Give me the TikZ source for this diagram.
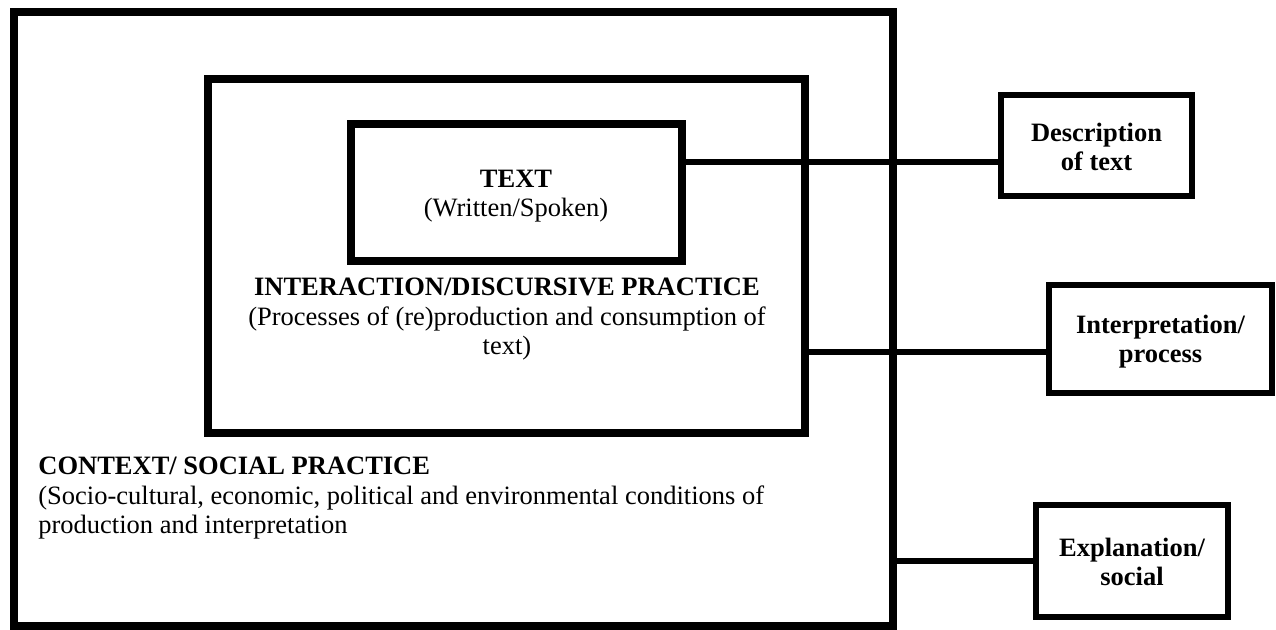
\documentclass[tikz,border=0pt]{standalone}
\usepackage{fontspec}
\setmainfont{Liberation Serif}
\begin{document}
\begin{tikzpicture}[x=0.5pt,y=-0.5pt,
  bigbox/.style={draw=black,line width=4pt,inner sep=0pt,outer sep=0pt},
  smallbox/.style={draw=black,line width=2.85pt,inner sep=0pt,outer sep=0pt},
  conn/.style={draw=black,line width=3pt},
  lbl/.style={inner sep=0pt,font=\fontsize{13.25pt}{14.75pt}\selectfont,align=center,anchor=base},
  blbl/.style={lbl,font=\fontsize{13.25pt}{14.75pt}\selectfont\bfseries}]
\useasboundingbox[fill=white] (0,0) rectangle (1276,630);
% nested boxes
\node[bigbox,minimum width=439.75pt,minimum height=307pt] (outer) at (453.25,319) {};
\node[bigbox,fill=white,minimum width=298.5pt,minimum height=177pt] (middle) at (506.5,256) {};
\node[bigbox,fill=white,minimum width=165.75pt,minimum height=68.25pt] (inner) at (516.25,192.75) {};
% right boxes
\node[smallbox,minimum width=95.5pt,minimum height=50.5pt] (desc) at (1096.5,145.5) {};
\node[smallbox,minimum width=111.5pt,minimum height=54pt] (interp) at (1160.5,339) {};
\node[smallbox,minimum width=96pt,minimum height=56pt] (expl) at (1132,561) {};
% texts (base anchor = baseline of the last line)
\node[lbl] (ttext) at (516,217) {\textbf{TEXT}\\(Written/Spoken)};
\node[lbl] (tinter) at (507,355) {\textbf{INTERACTION/DISCURSIVE PRACTICE}\\(Processes of (re)production and consumption of\\text)};
\node[lbl,align=left,anchor=base west] (tcontext) at (38,534) {\textbf{CONTEXT/ SOCIAL PRACTICE}\\(Socio-cultural, economic, political and environmental conditions of\\production and interpretation};
\node[blbl] (tdesc) at (1096.5,171) {Description\\of text};
\node[blbl] (tinterp) at (1160.5,363) {Interpretation/\\process};
\node[blbl] (texpl) at (1132,586) {Explanation/\\social};
% connectors
\coordinate (c1) at (0,162.5);
\coordinate (c2) at (0,352.5);
\draw[conn] (inner.east |- c1) -- (desc.west |- c1);
\draw[conn] (middle.east |- c2) -- (interp.west |- c2);
\draw[conn] (outer.east |- expl.west) -- (expl.west);
\end{tikzpicture}
\end{document}
